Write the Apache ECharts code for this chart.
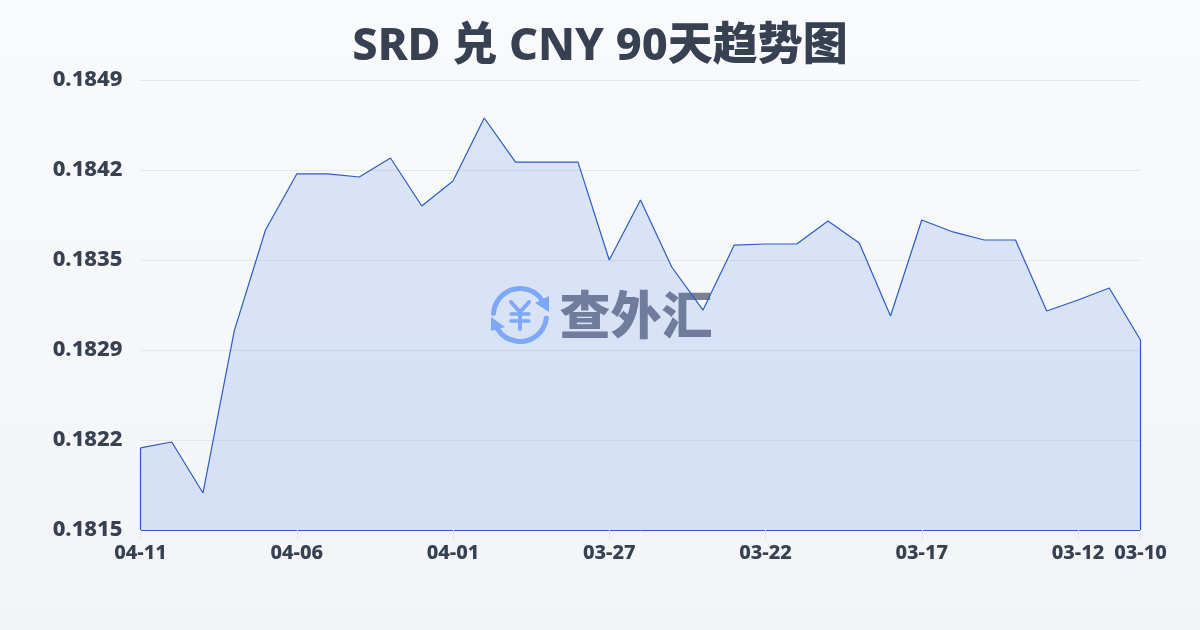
<!DOCTYPE html>
<html><head><meta charset="utf-8">
<style>html,body{margin:0;padding:0;background:#f6f7f9}#c{width:1200px;height:630px}</style>
<script src="https://cdn.jsdelivr.net/npm/echarts@6/dist/echarts.min.js"></script>
</head><body><div id="c"></div>
<script>
const titleText = 'SRD 兑 CNY 90天趋势图';
const categories = ['04-11','04-10','04-09','04-08','04-07','04-06','04-05','04-04','04-03','04-02','04-01','03-31','03-30','03-29','03-28','03-27','03-26','03-25','03-24','03-23','03-22','03-21','03-20','03-19','03-18','03-17','03-16','03-15','03-14','03-13','03-12','03-11','03-10'];
const rates = [0.182120,0.182165,0.181780,0.183004,0.183767,0.184190,0.184190,0.184167,0.184311,0.183948,0.184137,0.184613,0.184280,0.184280,0.184280,0.183540,0.183993,0.183487,0.183162,0.183653,0.183661,0.183661,0.183835,0.183668,0.183117,0.183842,0.183752,0.183691,0.183691,0.183155,0.183238,0.183328,0.182936];
const yMin = 0.1815, yMax = 0.1849, yStep = 0.00068;
const lineColor = '#2b5cc4';
const font = '"Noto Sans","Noto Sans CJK SC",sans-serif';
const chart = echarts.init(document.getElementById('c'), null, {renderer:'canvas'});
const last = categories.length - 1;
const showTick = i => i % 5 === 0 || i === last;
chart.setOption({
  animation:false,
  backgroundColor:new echarts.graphic.LinearGradient(0,0,0,1,[{offset:0,color:'#f9fafc'},{offset:1,color:'#f2f4f7'}]),
  title:{text:titleText,left:'center',top:20,textStyle:{fontFamily:font,fontSize:45,fontWeight:800,color:'#374151'}},
  grid:{left:140.5,right:59.5,top:80,bottom:100},
  xAxis:{type:'category',boundaryGap:false,data:categories,
    axisLine:{show:true,lineStyle:{color:lineColor,width:1}},
    axisTick:{show:true,alignWithLabel:true,interval:showTick,length:10,lineStyle:{color:'#e5e7eb'}},
    axisLabel:{interval:showTick,margin:13,hideOverlap:false,fontFamily:font,fontSize:20,fontWeight:800,color:'#374151'},
    splitLine:{show:false}},
  yAxis:{type:'value',min:yMin,max:yMax,interval:yStep,
    axisLine:{show:false},axisTick:{show:false},
    axisLabel:{margin:18,fontFamily:font,fontSize:22,fontWeight:800,color:'#374151',formatter:v=>v.toFixed(4)},
    splitLine:{lineStyle:{color:'#e5e7eb',width:1}}},
  series:[{type:'line',data:rates,symbol:'none',smooth:false,z:3,
    lineStyle:{color:lineColor,width:1.2},
    areaStyle:{color:'rgba(45,100,225,0.2)',origin:'start'},
    markLine:{silent:true,symbol:'none',label:{show:false},animation:false,
      lineStyle:{color:lineColor,width:1.2,type:'solid'},
      data:[
        [{coord:[categories[0],rates[0]]},{coord:[categories[0],yMin]}],
        [{coord:[categories[last],rates[last]]},{coord:[categories[last],yMin]}]
      ]}
  }],
  graphic:[{type:'group',z:1,silent:true,children:[
    {type:'arc',shape:{cx:520,cy:315,r:26.5,startAngle:Math.PI*1.02,endAngle:Math.PI*1.82,clockwise:true},style:{stroke:'#8ab4f8',lineWidth:5,fill:null,lineCap:'round'}},
    {type:'arc',shape:{cx:520,cy:315,r:26.5,startAngle:Math.PI*0.04,endAngle:Math.PI*0.82,clockwise:true},style:{stroke:'#8ab4f8',lineWidth:5,fill:null,lineCap:'round'}},
    {type:'polygon',shape:{points:[[549,296],[549,312],[535,303]]},style:{fill:'#8ab4f8'}},
    {type:'polygon',shape:{points:[[491,317],[491,331],[505,327]]},style:{fill:'#8ab4f8'}},
    {type:'polyline',shape:{points:[[511,302],[520,312],[529,302]]},style:{stroke:'#8ab4f8',lineWidth:4,fill:null,lineCap:'round'}},
    {type:'line',shape:{x1:511,y1:314,x2:529,y2:314},style:{stroke:'#8ab4f8',lineWidth:3.5,lineCap:'round'}},
    {type:'line',shape:{x1:511,y1:321,x2:529,y2:321},style:{stroke:'#8ab4f8',lineWidth:3.5,lineCap:'round'}},
    {type:'line',shape:{x1:520,y1:312,x2:520,y2:329},style:{stroke:'#8ab4f8',lineWidth:4,lineCap:'round'}},
    {type:'text',style:{x:636,y:315,text:'查外汇',align:'center',verticalAlign:'middle',fontFamily:'"Noto Sans CJK SC"',fontSize:51,fontWeight:900,fill:'#7b8190'}}
  ]}]
});
</script></body></html>
